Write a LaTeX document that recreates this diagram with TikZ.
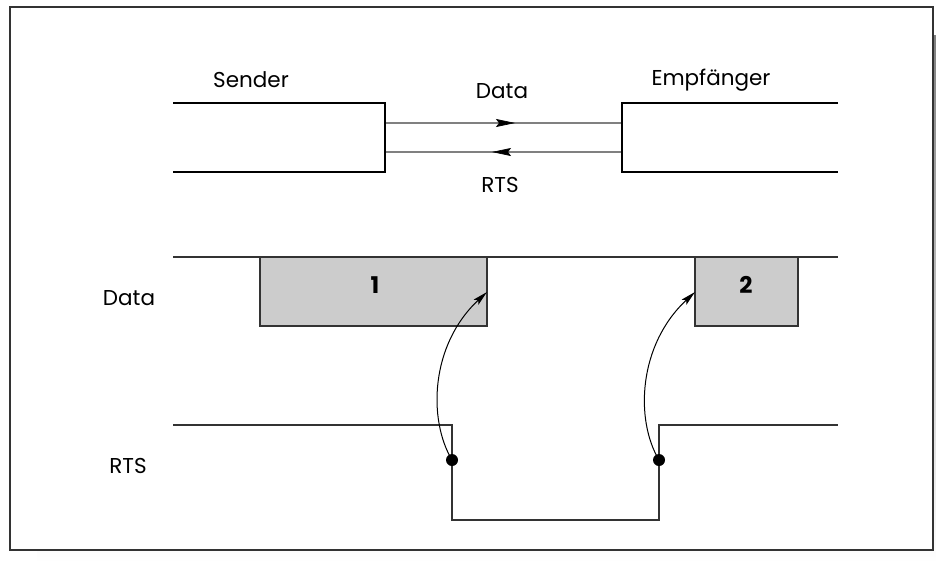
\documentclass[tikz,border=0pt]{standalone}
\usepackage{fontspec}
\setmainfont{Poppins}
\usetikzlibrary{arrows.meta}

\definecolor{shade}{HTML}{CCCCCC}
\definecolor{edge}{HTML}{333333}
\definecolor{wirecol}{HTML}{808080}

\tikzset{
  frameline/.style={draw=edge, line width=2pt, fill=white},
  port/.style={draw=black, line width=1.8pt},
  wire/.style={draw=wirecol, line width=1.3pt},
  signal/.style={draw=edge, line width=1.4pt},
  packet/.style={draw=edge, line width=1.2pt, fill=shade, inner sep=0pt},
  lbl/.style={font=\fontsize{21.5}{25}\selectfont, inner sep=0pt},
  num/.style={font=\fontsize{23}{27}\selectfont\bfseries, inner sep=0pt},
  trigger/.style={draw=black, line width=1pt,
    -{Stealth[length=15pt,width=7pt,inset=3pt]}},
  dot/.style={circle, fill=black, inner sep=0pt, minimum size=12pt},
  flowtip/.style={draw=black, line width=0.6pt,
    -{Stealth[length=19pt,width=8pt,inset=3pt]}}
}

\begin{document}
\begin{tikzpicture}[x=1pt,y=-1pt]
  \useasboundingbox (0,0) rectangle (936,563);

  % drop shadow and frame
  \fill[shade] (37,35) rectangle (936,563);
  \draw[frameline] (10,7) rectangle (933,550);

  % sender and receiver ends
  \coordinate (sTL) at (173,103);
  \coordinate (sTR) at (385,103);
  \coordinate (sBR) at (385,172);
  \coordinate (sBL) at (173,172);
  \coordinate (eTR) at (838,103);
  \coordinate (eTL) at (622,103);
  \coordinate (eBL) at (622,172);
  \coordinate (eBR) at (838,172);
  \draw[port] (sTL) -- (sTR) -- (sBR) -- (sBL);
  \draw[port] (eTR) -- (eTL) -- (eBL) -- (eBR);

  % data and handshake wires with direction heads
  \coordinate (dA) at (386,123);
  \coordinate (dB) at (621,123);
  \coordinate (rA) at (386,152);
  \coordinate (rB) at (621,152);
  \coordinate (dTail) at (500,123);
  \coordinate (dTip) at (515,123);
  \coordinate (rTail) at (507,152);
  \coordinate (rTip) at (492,152);
  \draw[wire] (dA) -- (dB);
  \draw[wire] (rA) -- (rB);
  \draw[flowtip] (dTail) -- (dTip);
  \draw[flowtip] (rTail) -- (rTip);

  \node[lbl] (sender) at (251,80) {Sender};
  \node[lbl] (empf) at (711,80) {Empfänger};
  \node[lbl] (datatop) at (502,91) {Data};
  \node[lbl] (rtsbot) at (500,185) {RTS};

  % timing diagram
  \node[lbl] (datalbl) at (129,298) {Data};
  \node[lbl] (rtslbl) at (128,466) {RTS};

  \coordinate (dL) at (173,257);
  \coordinate (dR) at (838,257);
  \draw[signal] (dL) -- (dR);

  \node[packet, minimum width=227pt, minimum height=69pt] (p1) at (373.5,291.5) {};
  \node[packet, minimum width=103pt, minimum height=69pt] (p2) at (746.5,291.5) {};
  \node[num] (n1) at (375,285) {1};
  \node[num] (n2) at (746,285) {2};

  \coordinate (r0) at (173,425);
  \coordinate (r1) at (452,425);
  \coordinate (r2) at (452,520);
  \coordinate (r3) at (659,520);
  \coordinate (r4) at (659,425);
  \coordinate (r5) at (838,425);
  \draw[signal] (r0) -- (r1) -- (r2) -- (r3) -- (r4) -- (r5);

  \node[dot] (k1) at (452,460) {};
  \node[dot] (k2) at (659,460) {};

  \coordinate (t1) at (487,292);
  \coordinate (t2) at (695,292);
  \draw[trigger] (k1.center) .. controls (428,420) and (430,345) .. (t1);
  \draw[trigger] (k2.center) .. controls (635,420) and (638,345) .. (t2);
\end{tikzpicture}
\end{document}
